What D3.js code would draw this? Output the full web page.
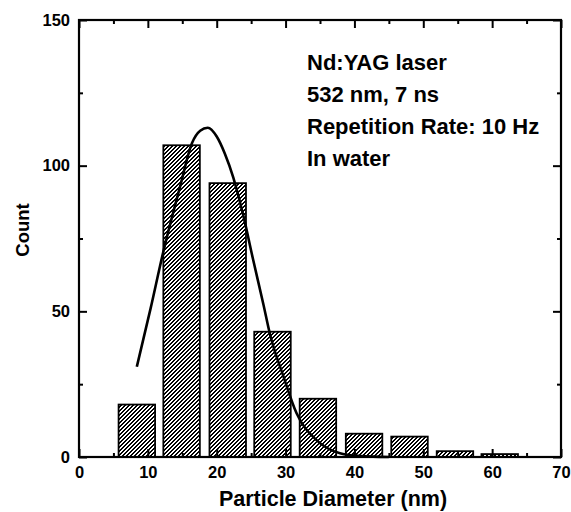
<!DOCTYPE html>
<html>
<head>
<meta charset="utf-8">
<script src="https://cdn.jsdelivr.net/npm/d3@7"></script>
<style>
  body { margin: 0; background: #fff; }
  svg { display: block; font-family: "Liberation Sans", Arial, sans-serif; font-weight: bold; }
</style>
</head>
<body>
<svg width="571" height="512"></svg>
<script>
// histogram bins (bin centre in nm) and counts
const binCenters = [8.4, 14.9, 21.6, 28.1, 34.7, 41.4, 48.0, 54.6, 61.1];
const counts = [18, 107, 94, 43, 20, 8, 7, 2, 1];
const binWidth = 5.3;

// fitted curve
const fitX = [8.4, 10.4, 12.2, 14.7, 16.4, 17.6, 18.7, 20.0, 21.2, 22.4, 23.9, 25.3, 26.8, 27.7, 29.7, 31.6, 34.5, 37.9, 41.0, 45.0];
const fitY = [31, 51, 70, 93, 107.7, 112, 113, 110, 104, 96, 82.5, 67.6, 52.2, 42.5, 27.6, 15, 5.8, 1.3, 0.3, 0];

const xTicks = [0, 10, 20, 30, 40, 50, 60, 70];
const yTicks = [0, 50, 100, 150];

const notes = ['Nd:YAG laser', '532 nm, 7 ns', 'Repetition Rate: 10 Hz', 'In water'];

const svg = d3.select('svg');
const margin = { left: 79, top: 20, right: 10, bottom: 55 };
const width = +svg.attr('width') - margin.left - margin.right;
const height = +svg.attr('height') - margin.top - margin.bottom;

const x = d3.scaleLinear().domain([0, 70]).range([0, width]);
const y = d3.scaleLinear().domain([0, 150]).range([height, 0]);

// hatch: pixel tile, "/" stripes
const pat = svg.append('defs').append('pattern')
    .attr('id', 'hatch')
    .attr('patternUnits', 'userSpaceOnUse')
    .attr('width', 4)
    .attr('height', 4);
pat.append('rect').attr('width', 4).attr('height', 4).attr('fill', '#fff');
[[2, 0], [1, 1], [0, 2], [3, 3]].forEach(([px, py]) => {
  pat.append('rect').attr('x', px).attr('y', py).attr('width', 2).attr('height', 1)
    .attr('fill', '#000').attr('shape-rendering', 'crispEdges');
});
pat.append('rect').attr('x', 0).attr('y', 3).attr('width', 1).attr('height', 1)
  .attr('fill', '#000').attr('shape-rendering', 'crispEdges');

const g = svg.append('g').attr('transform', `translate(${margin.left},${margin.top})`);

// bars
g.selectAll('rect.bar')
  .data(counts)
  .join('rect')
    .attr('class', 'bar')
    .attr('x', (d, i) => x(binCenters[i] - binWidth / 2))
    .attr('width', x(binWidth) - x(0))
    .attr('y', d => y(d))
    .attr('height', d => y(0) - y(d))
    .attr('fill', 'url(#hatch)')
    .attr('stroke', '#000')
    .attr('stroke-width', 1.8);

// fit curve
const line = d3.line()
    .x((d, i) => x(fitX[i]))
    .y(d => y(d))
    .curve(d3.curveMonotoneX);

g.append('path')
    .attr('d', line(fitY))
    .attr('fill', 'none')
    .attr('stroke', '#000')
    .attr('stroke-width', 2.6);

// axes: inward ticks on all four sides
const tickStyle = sel => {
  sel.select('.domain').remove();
  sel.selectAll('line').attr('stroke', '#000').attr('stroke-width', 2);
  sel.selectAll('text').attr('font-size', 16.5).attr('font-weight', 'bold').attr('fill', '#000');
};

const xMajor = d3.axisBottom(x).tickValues(xTicks).tickSize(-8).tickPadding(9);
const xMinor = d3.axisBottom(x).tickValues(d3.range(5, 70, 10)).tickSize(-4).tickFormat('');
const yMajor = d3.axisLeft(y).tickValues(yTicks).tickSize(-8).tickPadding(9);
const yMinor = d3.axisLeft(y).tickValues([25, 75, 125]).tickSize(-4).tickFormat('');

g.append('g').attr('transform', `translate(0,${height})`).call(xMajor).call(tickStyle);
g.append('g').attr('transform', `translate(0,${height})`).call(xMinor).call(tickStyle);
g.append('g').call(d3.axisTop(x).tickValues(xTicks).tickSize(-8).tickFormat('')).call(tickStyle);
g.append('g').call(d3.axisTop(x).tickValues(d3.range(5, 70, 10)).tickSize(-4).tickFormat('')).call(tickStyle);
g.append('g').call(yMajor).call(tickStyle);
g.append('g').call(yMinor).call(tickStyle);
g.append('g').attr('transform', `translate(${width},0)`)
  .call(d3.axisRight(y).tickValues(yTicks).tickSize(-8).tickFormat('')).call(tickStyle);
g.append('g').attr('transform', `translate(${width},0)`)
  .call(d3.axisRight(y).tickValues([25, 75, 125]).tickSize(-4).tickFormat('')).call(tickStyle);

// frame
g.append('rect')
    .attr('width', width)
    .attr('height', height)
    .attr('fill', 'none')
    .attr('stroke', '#000')
    .attr('stroke-width', 2.2);

// axis titles
svg.append('text')
    .attr('x', 333)
    .attr('y', 506)
    .attr('text-anchor', 'middle')
    .attr('font-size', 21.5)
    .text('Particle Diameter (nm)');

svg.append('text')
    .attr('transform', 'translate(29,230) rotate(-90)')
    .attr('text-anchor', 'middle')
    .attr('font-size', 18.5)
    .text('Count');

// annotation
svg.append('g').selectAll('text')
  .data(notes)
  .join('text')
    .attr('x', 307)
    .attr('y', (d, i) => 70 + i * 32)
    .attr('font-size', 22)
    .text(d => d);
</script>
</body>
</html>
